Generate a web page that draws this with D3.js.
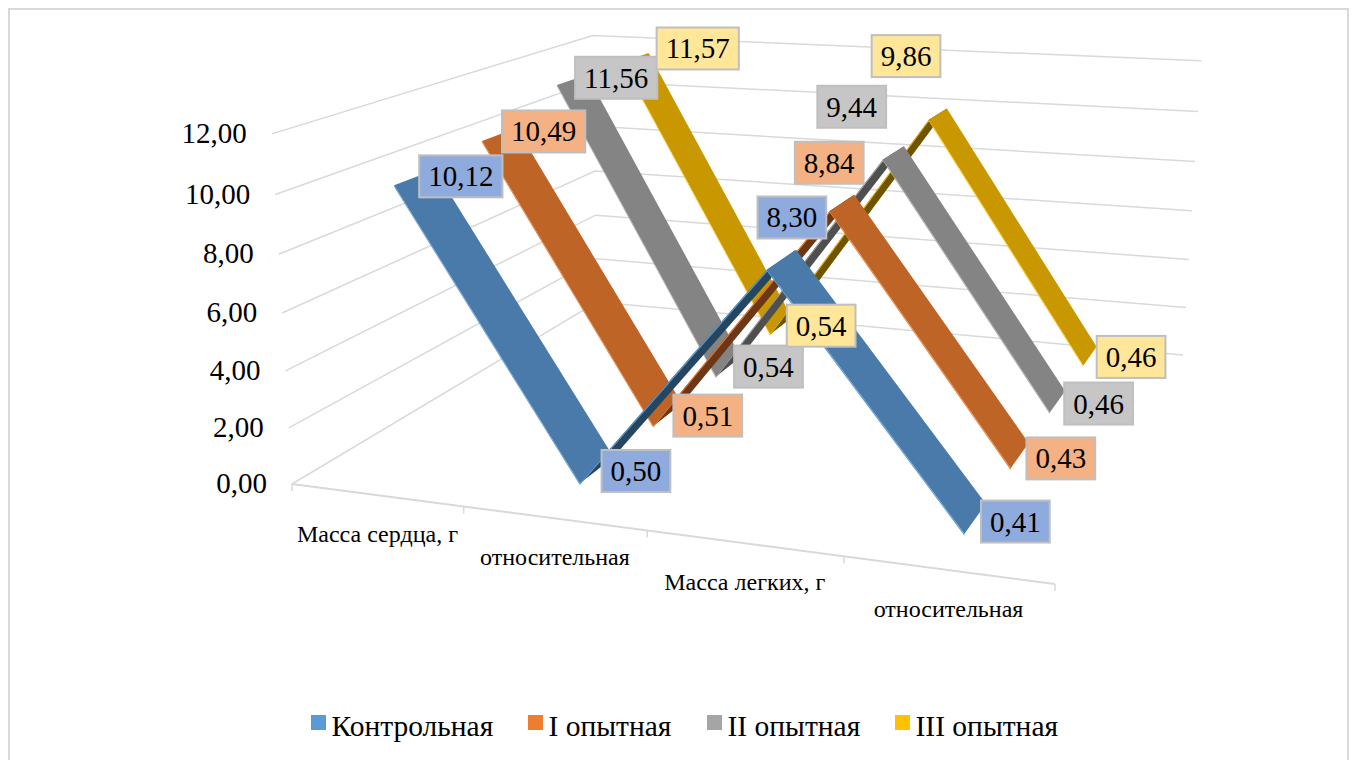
<!DOCTYPE html>
<html>
<head>
<meta charset="utf-8">
<script src="https://cdn.jsdelivr.net/npm/d3@7"></script>
<style>
  html, body { margin: 0; padding: 0; background: #fff; }
  svg { display: block; }
  text { font-family: "Liberation Serif", serif; fill: #000; }
</style>
</head>
<body>
<svg width="1354" height="760"></svg>
<script>
// данные диаграммы
const categories = ["Масса сердца, г", "относительная", "Масса легких, г", "относительная "];
const seriesNames = ["Контрольная", "I опытная", "II опытная", "III опытная"];
const control = [10.12, 0.50, 8.30, 0.41];
const group1 = [10.49, 0.51, 8.84, 0.43];
const group2 = [11.56, 0.54, 9.44, 0.46];
const group3 = [11.57, 0.54, 9.86, 0.46];
const yTicks = [0, 2, 4, 6, 8, 10, 12];

const seriesValues = [control, group1, group2, group3];
const edgeColors = ["#5b9bd5", "#ed7d31", "#a5a5a5", "#ffc000"]; // цвет серии и кромки
const faceColors = ["#4a7aa9", "#bf6427", "#848484", "#c99700"]; // спуск
const darkColors = ["#26465f", "#6b3716", "#4f4f4f", "#6f5400"]; // подъем
const labelFills = ["#8faadc", "#f4b183", "#c6c6c6", "#ffe699"];

// перспектива: углы пола и верх стен на экране
const FL = [292, 484], FR = [1055, 584], BR = [1183, 355], BL = [597, 302];
const FLtop = [272, 136], BLtop = [593, 31], BRtop = [1201, 64];

function makeProjection() {
  let dx1 = FR[0] - BR[0], dx2 = BL[0] - BR[0], sx = FL[0] - FR[0] + BR[0] - BL[0];
  let dy1 = FR[1] - BR[1], dy2 = BL[1] - BR[1], sy = FL[1] - FR[1] + BR[1] - BL[1];
  let den = dx1 * dy2 - dx2 * dy1;
  let g = (sx * dy2 - dx2 * sy) / den;
  let h = (dx1 * sy - sx * dy1) / den;
  let a = FR[0] - FL[0] + g * FR[0], b = BL[0] - FL[0] + h * BL[0], c = FL[0];
  let d = FR[1] - FL[1] + g * FR[1], e = BL[1] - FL[1] + h * BL[1], f = FL[1];
  // вертикальный столбец матрицы (v от 0 до 1), подгонка по трем верхним углам
  let rows = [
    { top: FLtop, base: FL, W: 1 },
    { top: BLtop, base: BL, W: h + 1 },
    { top: BRtop, base: BR, W: g + h + 1 },
  ];
  let bx = rows.map((o) => o.W * (o.top[0] - o.base[0]));
  let by = rows.map((o) => o.W * (o.top[1] - o.base[1]));
  let tx = rows.map((o) => o.top[0]);
  let ty = rows.map((o) => o.top[1]);
  let mbx = d3.mean(bx), mby = d3.mean(by), mtx = d3.mean(tx), mty = d3.mean(ty);
  let num = d3.sum(rows, (o, i) => (tx[i] - mtx) * (bx[i] - mbx) + (ty[i] - mty) * (by[i] - mby));
  let dn = d3.sum(rows, (o, i) => (tx[i] - mtx) ** 2 + (ty[i] - mty) ** 2);
  let r = -num / dn;
  let p = mbx + r * mtx;
  let q = mby + r * mty;
  return (u, w, v) => {
    let W = g * u + h * w + r * v + 1;
    return [(a * u + b * w + p * v + c) / W, (d * u + e * w + q * v + f) / W];
  };
}
const project = makeProjection();

const xScale = d3.scaleBand().domain(d3.range(categories.length)).range([0, 1]);
const zScale = d3.scaleBand().domain(d3.range(seriesNames.length)).range([0.01, 1.01]);
const yScale = d3.scaleLinear().domain([0, 12]).range([0, 1]);
const halfWidth = 0.055; // полуширина ленты по глубине
const edgeHeight = 0.06; // толщина кромки в единицах значения

const fmt = (v) => d3.format(".2f")(v).replace(".", ",");
const uAt = (i) => xScale(i) + xScale.bandwidth() / 2;
const zAt = (s) => zScale(s) + zScale.bandwidth() / 2;
const line = d3.line();

const svg = d3.select("svg");

svg.append("rect")
  .attr("x", 9).attr("y", 9).attr("width", 1339).attr("height", 780)
  .attr("fill", "#fff").attr("stroke", "#d9d9d9").attr("stroke-width", 2);

// сетка на стенах
const grid = svg.append("g").attr("fill", "none").attr("stroke", "#d9d9d9").attr("stroke-width", 1.5);
grid.selectAll("path")
  .data(yTicks)
  .enter()
  .append("path")
  .attr("d", (t) => line([
    project(0, 0, yScale(t)),
    project(0, 1, yScale(t)),
    project(1, 1, yScale(t)),
  ]));

// ось категорий с засечками
grid.append("path")
  .attr("stroke-width", 2)
  .attr("d", line([project(0, 0, 0), project(1, 0, 0)]));
grid.selectAll("line")
  .data(d3.range(categories.length + 1))
  .enter()
  .append("line")
  .attr("x1", (i) => project(i / categories.length, 0, 0)[0])
  .attr("x2", (i) => project(i / categories.length, 0, 0)[0])
  .attr("y1", (i) => project(i / categories.length, 0, 0)[1])
  .attr("y2", (i) => project(i / categories.length, 0, 0)[1] + 7);

svg.append("g").selectAll("text")
  .data(yTicks)
  .enter()
  .append("text")
  .attr("text-anchor", "end")
  .attr("font-size", 29)
  .attr("x", (t) => project(0, 0, yScale(t))[0] - 25)
  .attr("y", (t) => project(0, 0, yScale(t))[1] + 9)
  .text(fmt);

svg.append("g").selectAll("text")
  .data(categories)
  .enter()
  .append("text")
  .attr("text-anchor", "middle")
  .attr("font-size", 24)
  .attr("x", (d, i) => project(uAt(i), 0, 0)[0] + 1)
  .attr("y", (d, i) => project(uAt(i), 0, 0)[1] + 47)
  .text((d) => d.trim());

// ленты: сзади вперед
function ribbon(i0, v0, i1, v1, z0, z1) {
  return line([
    project(uAt(i0), z0, yScale(v0)),
    project(uAt(i0), z1, yScale(v0)),
    project(uAt(i1), z1, yScale(v1)),
    project(uAt(i1), z0, yScale(v1)),
  ]) + "Z";
}
function edge(i0, v0, i1, v1, z0) {
  return line([
    project(uAt(i0), z0, yScale(v0)),
    project(uAt(i1), z0, yScale(v1)),
    project(uAt(i1), z0, yScale(v1 - edgeHeight)),
    project(uAt(i0), z0, yScale(v0 - edgeHeight)),
  ]) + "Z";
}

const plot = svg.append("g");
d3.range(seriesNames.length).reverse().forEach((s) => {
  let values = seriesValues[s];
  let z = zAt(s);
  d3.pairs(d3.range(values.length)).forEach(([i0, i1]) => {
    let rising = values[i1] > values[i0];
    let seg = plot.append("g");
    seg.append("path")
      .attr("d", ribbon(i0, values[i0], i1, values[i1], z - halfWidth, z + halfWidth))
      .attr("fill", rising ? darkColors[s] : faceColors[s]);
    seg.append("path")
      .attr("d", edge(i0, values[i0], i1, values[i1], z - halfWidth))
      .attr("fill", edgeColors[s]);
  });
});

// подписи значений, смещения подобраны по рисунку
const labelDx = [[46, 39, 10, 40], [44, 40, -13, 41], [44, 40, -42, 41], [62, 40, -32, 41]];
const labelDy = [[-1, 1, -42, 3], [-3, 1, -40, 3], [-2, 0, -46, 2], [-9, 0, -58, 1]];

seriesValues.forEach((values, s) => {
  values.forEach((v, i) => {
    let p = project(uAt(i), zAt(s), yScale(v));
    let g = svg.append("g")
      .attr("transform", `translate(${p[0] + labelDx[s][i]},${p[1] + labelDy[s][i]})`);
    let r = g.append("rect");
    let t = g.append("text")
      .attr("text-anchor", "middle")
      .attr("font-size", 29)
      .attr("y", 10)
      .text(fmt(v));
    let w = t.node().getComputedTextLength() + 18;
    r.attr("x", -w / 2).attr("y", -21).attr("width", w).attr("height", 42)
      .attr("fill", labelFills[s]).attr("stroke", "#bfbfbf").attr("stroke-width", 2);
  });
});

// легенда
const legendX = [311, 528, 707, 895];
const legend = svg.append("g").selectAll("g")
  .data(seriesNames)
  .enter()
  .append("g")
  .attr("transform", (d, i) => `translate(${legendX[i]},715)`);
legend.append("rect")
  .attr("width", 15).attr("height", 15)
  .attr("fill", (d, i) => edgeColors[i]);
legend.append("text")
  .attr("x", 20.5).attr("y", 21)
  .attr("font-size", 29.5)
  .text((d) => d);
</script>
</body>
</html>
